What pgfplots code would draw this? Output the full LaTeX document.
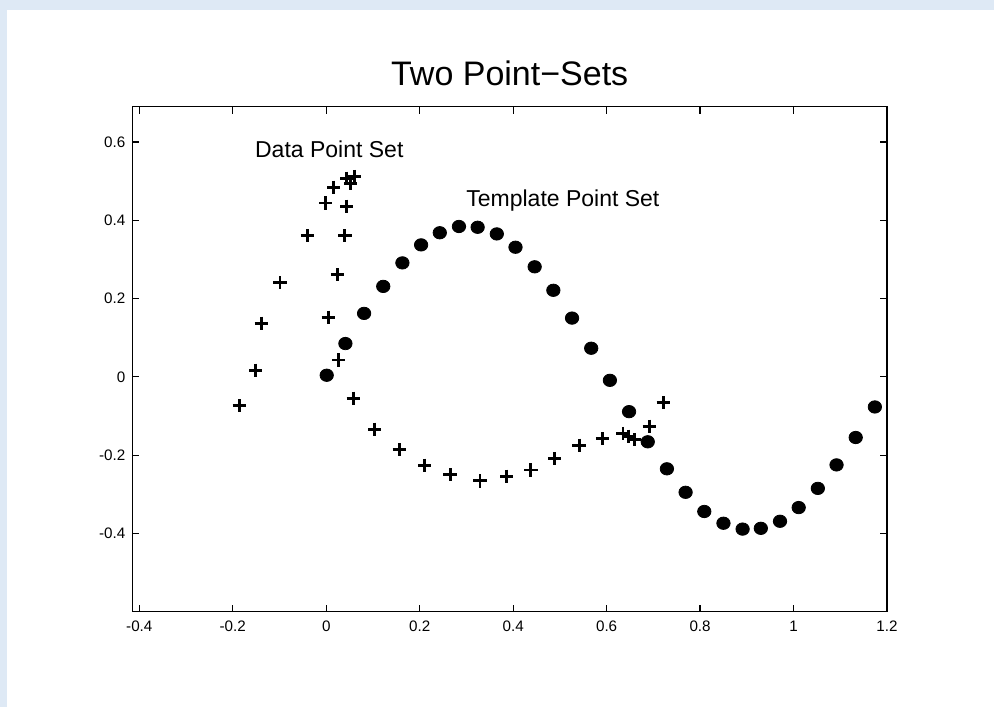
\documentclass[border=0pt]{standalone}
\usepackage{pgfplots}
\pgfplotsset{compat=1.18}
\usepackage{fontspec}
\setmainfont{Liberation Sans}
\definecolor{bgblue}{RGB}{222,233,245}
\pgfplotstableread{
x y
0.001 0.004
0.041 0.085
0.081 0.162
0.122 0.231
0.163 0.291
0.203 0.337
0.243 0.368
0.284 0.384
0.324 0.382
0.365 0.365
0.405 0.331
0.446 0.281
0.486 0.221
0.526 0.150
0.567 0.073
0.607 -0.009
0.648 -0.089
0.688 -0.166
0.729 -0.235
0.769 -0.295
0.809 -0.344
0.850 -0.374
0.891 -0.389
0.930 -0.387
0.971 -0.369
1.011 -0.334
1.052 -0.285
1.092 -0.225
1.133 -0.155
1.174 -0.077
}\template
\pgfplotstableread{
x y
-0.186 -0.074
-0.151 0.017
-0.139 0.137
-0.099 0.240
-0.040 0.360
-0.001 0.444
0.016 0.484
0.044 0.507
0.052 0.494
0.060 0.512
0.044 0.436
0.040 0.360
0.024 0.261
0.004 0.152
0.027 0.043
0.058 -0.055
0.104 -0.134
0.156 -0.186
0.211 -0.226
0.265 -0.250
0.329 -0.266
0.386 -0.254
0.438 -0.238
0.489 -0.209
0.541 -0.175
0.591 -0.158
0.635 -0.145
0.646 -0.152
0.660 -0.161
0.691 -0.126
0.721 -0.066
}\datapts
\begin{document}
\begin{tikzpicture}
\fill[bgblue] (0,0) rectangle (497pt,353.5pt);
\fill[white] (3.5pt,0) rectangle (497pt,348.5pt);
\path[use as bounding box] (0,0) rectangle (497pt,353.5pt);
\begin{axis}[
  at={(66.15pt,47.65pt)}, anchor=south west,
  scale only axis, width=377.35pt, height=252.5pt,
  xmin=-0.415, xmax=1.2, ymin=-0.6, ymax=0.69,
  xtick={-0.4,-0.2,0,0.2,0.4,0.6,0.8,1,1.2},
  ytick={-0.4,-0.2,0,0.2,0.4,0.6},
  tick align=inside, xtick pos=both, ytick pos=both,
  major tick length=3.5pt,
  axis line style={line width=0.7pt},
  every tick/.style={black, line width=0.6pt},
  tick label style={font=\fontsize{7.6}{8}\selectfont},
  /pgf/number format/assume math mode=true,
  xticklabel style={yshift=-1pt},
  title={\fontsize{17}{20}\selectfont Two Point\textminus Sets},
  title style={yshift=1pt},
  clip=false,
]
\addplot[only marks, mark=*, mark size=3.1pt, mark options={fill=black, draw=black, xscale=1.08}] table[x=x,y=y] {\template};
\addplot[only marks, mark=+, mark size=3.3pt, mark options={line width=1.45pt}] table[x=x,y=y] {\datapts};
\node[anchor=west, font=\fontsize{11.5}{13}\selectfont, inner sep=0pt] at (axis cs:-0.153,0.58) {Data Point Set};
\node[anchor=west, font=\fontsize{11.5}{13}\selectfont, inner sep=0pt] at (axis cs:0.299,0.451) {Template Point Set};
\end{axis}
\end{tikzpicture}
\end{document}
